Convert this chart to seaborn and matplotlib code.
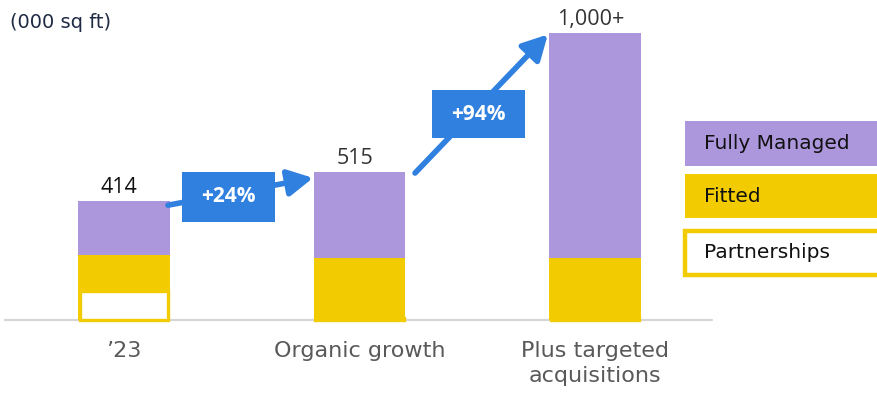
import matplotlib
matplotlib.use("Agg")
import matplotlib.pyplot as plt
from matplotlib.patches import Rectangle, FancyArrowPatch
import seaborn as sns
import pandas as pd

# ---- data ----
categories = ["\u201923", "Organic growth", "Plus targeted\nacquisitions"]
partnerships = [100, 6, 6]
fitted = [128, 209, 209]
fully_managed = [186, 300, 785]
value_labels = ["414", "515", "1,000+"]
growth_labels = ["+24%", "+94%"]
legend_labels = ["Fully Managed", "Fitted", "Partnerships"]

PURPLE = "#AC96DC"
YELLOW = "#F2CB00"
BLUE = "#3080E0"

sns.set_theme(style="white")
plt.rcParams["font.family"] = ["DejaVu Sans"]

W, H = 877, 397
fig = plt.figure(figsize=(W / 100, H / 100), dpi=100)

def fx(px):
    return px / W

def fy(py):
    return 1 - py / H

ax = fig.add_axes([fx(5), fy(320), fx(712) - fx(5), fy(0) - fy(320)])

df = pd.DataFrame({
    "cat": categories,
    "p": partnerships,
    "f": fitted,
    "m": fully_managed,
})
df["pf"] = df["p"] + df["f"]
df["total"] = df["pf"] + df["m"]

bw = 0.39
sns.barplot(data=df, x="cat", y="total", color=PURPLE, width=bw, ax=ax,
            saturation=1, linewidth=0)
sns.barplot(data=df, x="cat", y="pf", color=YELLOW, width=bw, ax=ax,
            saturation=1, linewidth=0)
sns.barplot(data=df, x="cat", y="p", color="white", width=bw - 0.014, ax=ax,
            saturation=1, linewidth=2.4, edgecolor=YELLOW)
for p in ax.patches:
    p.set_clip_on(False)

ax.set_xlim(-0.505, 2.497)
ax.set_ylim(0, 1115)
ax.set_xlabel("")
ax.set_ylabel("")
ax.set_yticks([])
for s in ax.spines.values():
    s.set_visible(False)
ax.axhline(0, color="#D6D6D6", lw=1.6, zorder=0.5, clip_on=False)
ax.tick_params(axis="x", length=0, pad=15, labelsize=16, labelcolor="#595959")
for t in ax.get_xticklabels():
    t.set_linespacing(1.3)
    t.set_verticalalignment("top")

# value labels
val_colors = ["#111111", "#333333", "#333333"]
for i, (lab, tot) in enumerate(zip(value_labels, df["total"])):
    ax.text(i - 0.02, tot + 12, lab, ha="center", va="bottom", fontsize=15.5,
            color=val_colors[i], clip_on=False,
            family=["Open Sans", "DejaVu Sans"])

# unit label
fig.text(fx(10), fy(22), "(000 sq ft)", ha="left", va="center",
         fontsize=14, color="#1F2A44")

# growth arrows (data coordinates between bars)
arrows = [((0.187, 400), (0.803, 495)), ((1.236, 512), (1.800, 995))]
for (x0, y0), (x1, y1) in arrows:
    ar = FancyArrowPatch((x0, y0), (x1, y1),
                         arrowstyle="-|>,head_length=15,head_width=8",
                         mutation_scale=1, lw=4, color=BLUE,
                         shrinkA=0, shrinkB=0, clip_on=False, zorder=5)
    ax.add_patch(ar)

# growth boxes
boxes = [(182, 172, 93, 50), (432, 90, 93, 48)]
for (bx, by, bwid, bh), lab in zip(boxes, growth_labels):
    fig.patches.append(Rectangle((fx(bx), fy(by + bh)), bwid / W, bh / H,
                                 transform=fig.transFigure, facecolor=BLUE,
                                 edgecolor="none", zorder=6))
    fig.text(fx(bx + bwid / 2), fy(by + bh / 2), lab, ha="center",
             va="center", fontsize=15, fontweight="bold", color="white",
             zorder=7, family=["Open Sans", "DejaVu Sans"])

# legend boxes
leg = [(121, 45, PURPLE, "none", 0), (174, 44, YELLOW, "none", 0),
       (231, 44, "white", YELLOW, 3.2)]
for (ly, lh, fc, ec, lw), lab in zip(leg, legend_labels):
    fig.patches.append(Rectangle((fx(685), fy(ly + lh)), (W + 20 - 685) / W,
                                 lh / H, transform=fig.transFigure,
                                 facecolor=fc, edgecolor=ec, linewidth=lw,
                                 zorder=3))
    fig.text(fx(704), fy(ly + lh / 2), lab, ha="left", va="center",
             fontsize=14.5, color="#111111", zorder=4)

fig.savefig("out.png", dpi=100)
